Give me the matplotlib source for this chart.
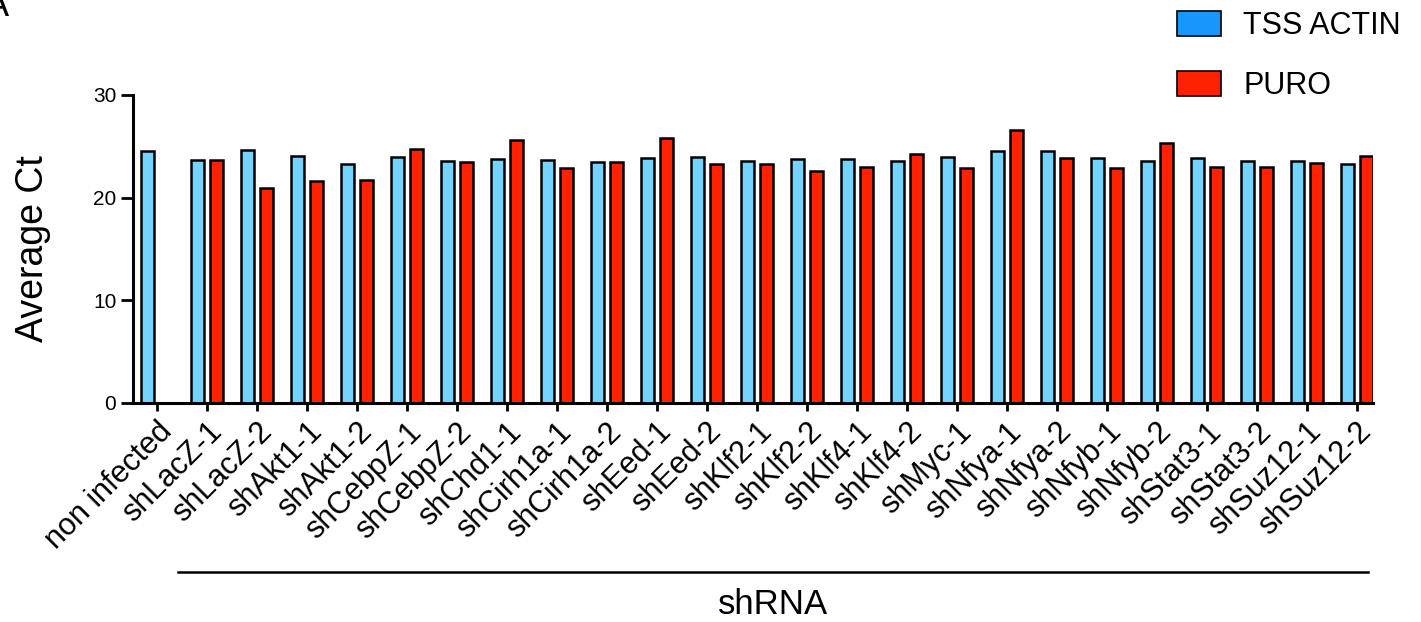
import numpy as np
import matplotlib
matplotlib.use("Agg")
import matplotlib.pyplot as plt
from matplotlib.patches import Patch
from matplotlib.transforms import blended_transform_factory

plt.rcParams['font.family'] = ['Liberation Sans', 'DejaVu Sans']

labels = ["non infected", "shLacZ-1", "shLacZ-2", "shAkt1-1", "shAkt1-2",
          "shCebpZ-1", "shCebpZ-2", "shChd1-1", "shCirh1a-1", "shCirh1a-2",
          "shEed-1", "shEed-2", "shKlf2-1", "shKlf2-2", "shKlf4-1", "shKlf4-2",
          "shMyc-1", "shNfya-1", "shNfya-2", "shNfyb-1", "shNfyb-2",
          "shStat3-1", "shStat3-2", "shSuz12-1", "shSuz12-2"]

tss_actin = [24.5, 23.7, 24.6, 24.1, 23.3, 24.0, 23.6, 23.8, 23.7, 23.5,
             23.9, 24.0, 23.6, 23.8, 23.8, 23.6, 24.0, 24.5, 24.5, 23.9,
             23.6, 23.9, 23.6, 23.6, 23.3]
puro = [np.nan, 23.7, 20.9, 21.6, 21.7, 24.7, 23.5, 25.6, 22.9, 23.5,
        25.8, 23.3, 23.3, 22.6, 23.0, 24.3, 22.9, 26.6, 23.9, 22.9,
        25.3, 23.0, 23.0, 23.4, 24.1]

bar_blue = '#75D4FF'
bar_red = '#FF2200'
legend_blue = '#1996FA'

fig = plt.figure(figsize=(14.21, 6.22), dpi=100)
ax = fig.add_axes([133/1421, 1-403/622, (1373-133)/1421, (403-95)/622])

x = np.arange(len(labels))
w = 0.26
off = 0.19
ax.bar(x - off, tss_actin, w, color=bar_blue, edgecolor='black', linewidth=1.8)
p = np.array(puro)
ok = ~np.isnan(p)
ax.bar(x[ok] + off, p[ok], w, color=bar_red, edgecolor='black', linewidth=1.8)

ax.set_ylim(0, 30)
ax.set_xlim(-0.474, 24.33)
ax.set_yticks([0, 10, 20, 30])
ax.set_xticks(x)
ax.set_xticklabels(labels, rotation=45, ha='right', va='top', rotation_mode='anchor', fontsize=22)
ax.tick_params(axis='y', length=9, width=2, labelsize=15, pad=3)
ax.tick_params(axis='x', length=6, width=2, pad=4)
for s in ['top', 'right']:
    ax.spines[s].set_visible(False)
for s in ['left', 'bottom']:
    ax.spines[s].set_linewidth(2.2)
ax.set_ylabel("Average Ct", fontsize=27, labelpad=30)

# group line under labels
tr = blended_transform_factory(ax.transData, fig.transFigure)
ax.plot([0.43, 24.22], [1-572/622, 1-572/622], color='black', lw=1.8,
        transform=tr, clip_on=False)
ax.text(12.33, 1-605/622, "shRNA", transform=tr, ha='center', va='center', fontsize=25)

handles = [Patch(facecolor=legend_blue, edgecolor='black', linewidth=1.2),
           Patch(facecolor=bar_red, edgecolor='black', linewidth=1.2)]
fig.legend(handles, ["TSS ACTIN", "PURO"], loc='upper left',
           bbox_to_anchor=(1177/1421, 1-11/622), frameon=False, fontsize=22,
           handlelength=1.45, handleheight=0.9, handletextpad=0.72,
           labelspacing=0.96, borderpad=0, borderaxespad=0)

fig.text(9/1421, 1-16/622, "A", ha='right', va='baseline', fontsize=26)

fig.savefig("out.png", dpi=100)
